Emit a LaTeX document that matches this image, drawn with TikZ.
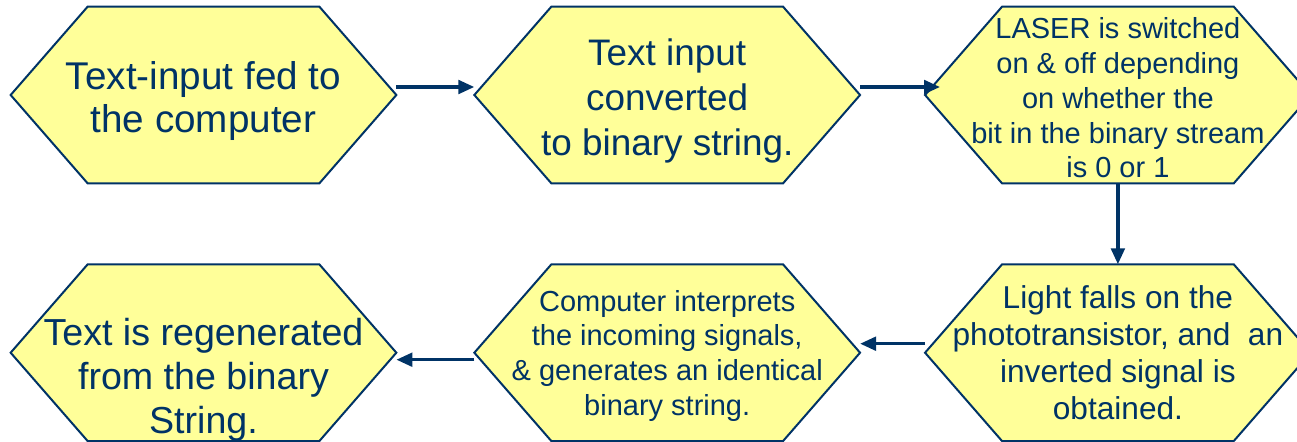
\documentclass[tikz,border=0pt]{standalone}
\usepackage{fontspec}
\setmainfont{Liberation Sans}
\usetikzlibrary{positioning,calc,arrows.meta,backgrounds}
\definecolor{navy}{RGB}{0,51,102}
\definecolor{paleyellow}{RGB}{255,255,153}
\tikzstyle{hexbox} = [rectangle, minimum width=7.7cm, minimum height=3.52cm, inner sep=0pt]
\tikzstyle{hexlabel} = [text=navy, align=center, inner sep=0pt]
\tikzstyle{hexline} = [draw=navy, fill=paleyellow, line width=0.04cm]
\tikzstyle{flow} = [draw=navy, line width=0.07cm, ->]
\newcommand{\hugefont}{\fontsize{22}{24.5}\selectfont}
\newcommand{\bigfont}{\fontsize{21}{25.5}\selectfont}
\newcommand{\regenfont}{\fontsize{21.4}{25}\selectfont}
\newcommand{\midfont}{\fontsize{18}{21}\selectfont}
\newcommand{\smallfont}{\fontsize{16.5}{19.8}\selectfont}

\begin{document}
\begin{tikzpicture}[node distance=1.62cm, >={Triangle[length=0.32cm,width=0.27cm]}]
    \useasboundingbox (0,0) rectangle (25.94,8.82);
    \node[hexbox, label={[hexlabel, name=inputtext, font=\hugefont, yshift=-0.12cm]center:Text-input fed to\\the computer}] (input) at (4.07,6.92) {};
    \node[hexbox, right=1.56cm of input, label={[hexlabel, name=binarytext, font=\bigfont, yshift=-0.12cm]center:Text input\\converted\\to binary string.}] (binary) {};
    \node[hexbox, right=1.3cm of binary, label={[hexlabel, name=lasertext, font=\smallfont, yshift=-0.06cm]center:LASER is switched\\on \& off depending\\on whether the\\bit in the binary stream\\is 0 or 1}] (laser) {};
    \node[hexbox, below=of laser, label={[hexlabel, name=phototext, font=\midfont]center:Light falls on the\\phototransistor, and \ an\\inverted signal is\\obtained.}] (photo) {};
    \node[hexbox, left=1.3cm of photo, label={[hexlabel, name=computertext, font=\smallfont, yshift=-0.06cm]center:Computer interprets\\the incoming signals,\\\& generates an identical\\binary string.}] (computer) {};
    \node[hexbox, left=1.56cm of computer, label={[hexlabel, name=regentext, font=\regenfont, yshift=-0.54cm]center:Text is regenerated\\from the binary\\String.}] (regen) {};

    % hexagon outlines behind the texts
    \begin{scope}[on background layer]
        \foreach \n in {input,binary,laser,photo,computer,regen}
            \filldraw[hexline] (\n.west) -- ($(\n.north west)+(1.54,0)$) -- ($(\n.north east)-(1.54,0)$)
                -- (\n.east) -- ($(\n.south east)-(1.54,0)$) -- ($(\n.south west)+(1.54,0)$) -- cycle;
    \end{scope}

    \draw[flow] ([yshift=0.16cm]input.east) -- ([yshift=0.16cm]binary.west);
    \draw[flow] ([yshift=0.16cm]binary.east) -- ([xshift=0.3cm,yshift=0.16cm]laser.west);
    \draw[flow] (laser.south) -- (photo.north);
    \draw[flow] ([yshift=0.18cm]photo.west) -- ([yshift=0.18cm]computer.east);
    \draw[flow] ([yshift=-0.14cm]computer.west) -- ([yshift=-0.14cm]regen.east);
\end{tikzpicture}
\end{document}
